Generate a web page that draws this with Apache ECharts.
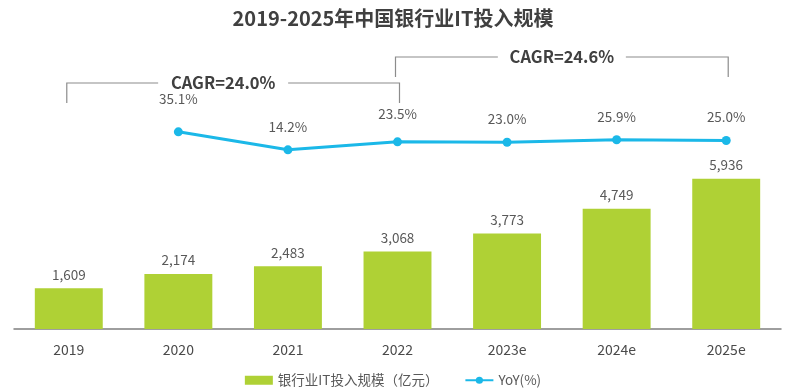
<!DOCTYPE html>
<html><head><meta charset="utf-8">
<script src="https://cdn.jsdelivr.net/npm/echarts@6/dist/echarts.min.js"></script>
<style>html,body{margin:0;padding:0;background:#fff}#c{width:786px;height:392px}</style>
</head><body><div id="c"></div>
<script>
var categories = ['2019','2020','2021','2022','2023e','2024e','2025e'];
var investment = [1609, 2174, 2483, 3068, 3773, 4749, 5936];
var yoy = [null, 35.1, 14.2, 23.5, 23.0, 25.9, 25.0];
var yoyLabelOffsets = [0, -10, 0, -5, 0, 0, 0];
var cagrLabels = ['CAGR=24.0%', 'CAGR=24.6%'];
var barName = '银行业IT投入规模（亿元）';
var lineName = 'YoY(%)';
var font = '"Microsoft YaHei","Noto Sans CJK SC","Noto Sans",sans-serif';

var chart = echarts.init(document.getElementById('c'));
var option = {
  animation: false,
  textStyle: {fontFamily: font},
  title: {
    text: '2019-2025年中国银行业IT投入规模',
    left: 'center', top: 3,
    textStyle: {fontSize: 20, fontWeight: 'bold', color: '#404040', fontFamily: font}
  },
  legend: {
    bottom: 0, left: 'center', itemGap: 26, itemWidth: 28, itemHeight: 9,
    textStyle: {fontSize: 13.5, color: '#595959'},
    data: [{name: barName, icon: 'rect'}, {name: lineName}]
  },
  grid: {left: 14, right: 5, top: 76, bottom: 63},
  xAxis: {
    type: 'category', data: categories,
    axisLine: {lineStyle: {color: '#7f7f7f', width: 1.5}},
    axisTick: {show: false},
    axisLabel: {fontSize: 14, color: '#4a4a4a', margin: 14}
  },
  yAxis: [
    {type: 'value', min: 0, max: 10000, show: false, splitLine: {show: false}},
    {type: 'value', min: -194, max: 100, show: false, splitLine: {show: false}}
  ],
  series: [
    {
      name: barName, type: 'bar', data: investment, barWidth: '62%',
      itemStyle: {color: '#AFD135'},
      label: {show: true, position: 'top', distance: 7, fontSize: 13.5, color: '#595959',
        formatter: function(p){ return p.value.toLocaleString('en-US'); }}
    },
    {
      name: lineName, type: 'line', yAxisIndex: 1,
      data: yoy.map(function(v, i){
        return v == null ? null : {value: v, label: {offset: [0, yoyLabelOffsets[i]]}};
      }),
      symbol: 'circle', symbolSize: 9, connectNulls: false,
      lineStyle: {color: '#1BB8E8', width: 3},
      itemStyle: {color: '#1BB8E8'},
      label: {show: true, position: 'top', distance: 12, fontSize: 13.5, color: '#595959',
        formatter: function(p){ return p.value.toFixed(1) + '%'; }}
    }
  ]
};
chart.setOption(option);

function bracket(i0, i1, y, drop, text, gapHalf, shift) {
  var x0 = chart.convertToPixel({xAxisIndex: 0}, categories[i0]) - 2;
  var x1 = chart.convertToPixel({xAxisIndex: 0}, categories[i1]) + 2;
  var xm = (x0 + x1) / 2 + shift;
  var st = {stroke: '#8c8c8c', lineWidth: 1.2, fill: null};
  return [
    {type: 'polyline', shape: {points: [[x0, y + drop], [x0, y], [xm - gapHalf, y]]}, style: st, silent: true},
    {type: 'polyline', shape: {points: [[xm + gapHalf, y], [x1, y], [x1, y + drop]]}, style: st, silent: true},
    {type: 'text', x: xm, y: y, style: {text: text, align: 'center', verticalAlign: 'middle',
      font: 'bold 16.5px ' + font, fill: '#404040'}, silent: true}
  ];
}
chart.setOption({
  graphic: [].concat(
    bracket(0, 3, 83, 20, cagrLabels[0], 65, -10),
    bracket(3, 6, 57, 20, cagrLabels[1], 64, 0)
  )
});
</script>
</body></html>
